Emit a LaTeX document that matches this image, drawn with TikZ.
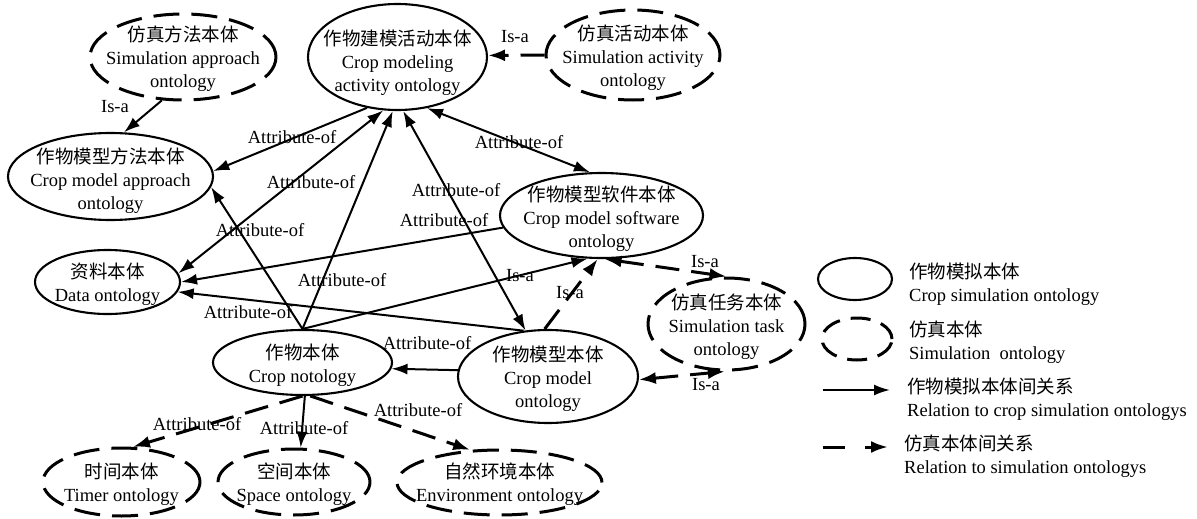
\documentclass[tikz,border=0pt]{standalone}
\usepackage{fontspec}
\setmainfont{Liberation Serif}
\newfontfamily\cjk{Noto Sans CJK SC}
\usetikzlibrary{shapes.geometric,arrows.meta}
\begin{document}
\begin{tikzpicture}[x=1pt,y=-1pt,
  font=\fontsize{18.5}{23}\selectfont,
  solidell/.style={draw, ellipse, line width=2.1pt, inner sep=0pt},
  dashell/.style={draw, ellipse, line width=3pt, dash pattern=on 26pt off 12pt, inner sep=0pt},
  txt/.style={align=center, inner sep=0pt},
  legtxt/.style={align=left, inner sep=0pt, anchor=west},
  lbl/.style={inner sep=0pt},
  tip/.tip={Latex[length=16pt,width=11pt]},
  stip/.tip={Latex[length=17pt,width=12pt]},
  rel/.style={line width=2pt, -tip},
  relboth/.style={line width=2pt, tip-tip},
  srel/.style={line width=3pt, dash pattern=on 24pt off 12pt, -stip},
  srelboth/.style={line width=3pt, dash pattern=on 24pt off 12pt, stip-stip}
]
\useasboundingbox (0,0) rectangle (1197,519);

% ellipses
\node[dashell,  minimum width=186pt, minimum height=86pt]  (sap)   at (183,57) {};
\node[solidell, minimum width=179pt, minimum height=106pt] (act)   at (397.5,57) {};
\node[dashell,  minimum width=174pt, minimum height=90pt]  (sact)  at (633,55) {};
\node[solidell, minimum width=205pt, minimum height=87pt]  (cma)   at (110.5,176.5) {};
\node[solidell, minimum width=203pt, minimum height=85pt]  (cms)   at (601.5,215.5) {};
\node[solidell, minimum width=145pt, minimum height=64pt]  (data)  at (107.5,282) {};
\node[solidell, minimum width=179pt, minimum height=65pt]  (crop)  at (302.5,362.5) {};
\node[solidell, minimum width=180pt, minimum height=93pt]  (cm)    at (548,376.5) {};
\node[dashell,  minimum width=157pt, minimum height=92pt]  (task)  at (726.5,324) {};
\node[dashell,  minimum width=157pt, minimum height=68pt]  (timer) at (121.5,482) {};
\node[dashell,  minimum width=152pt, minimum height=66pt]  (space) at (294,482) {};
\node[dashell,  minimum width=205pt, minimum height=65pt]  (env)   at (499.5,482.5) {};
\node[solidell, minimum width=74pt, minimum height=42pt]   (leg1)  at (855,279) {};
\node[dashell, dash pattern=on 20pt off 11pt, minimum width=70pt, minimum height=42pt] (leg2) at (857,339) {};

% texts
\node[txt] (sap-t)   at (183,59)    {{\cjk 仿真方法本体}\\Simulation approach\\ontology};
\node[txt] (act-t)   at (397.5,63)  {{\cjk 作物建模活动本体}\\Crop modeling\\activity ontology};
\node[txt] (sact-t)  at (633,58)    {{\cjk 仿真活动本体}\\Simulation activity\\ontology};
\node[txt] (cma-t)   at (110.5,181) {{\cjk 作物模型方法本体}\\Crop model approach\\ontology};
\node[txt] (cms-t)   at (601.5,219) {{\cjk 作物模型软件本体}\\Crop model software\\ontology};
\node[txt] (data-t)  at (107.5,284) {{\cjk 资料本体}\\Data ontology};
\node[txt] (crop-t)  at (302.5,365) {{\cjk 作物本体}\\Crop notology};
\node[txt] (cm-t)    at (548,379)   {{\cjk 作物模型本体}\\Crop model\\ontology};
\node[txt] (task-t)  at (726.5,327) {{\cjk 仿真任务本体}\\Simulation task\\ontology};
\node[txt] (timer-t) at (121.5,484) {{\cjk 时间本体}\\Timer ontology};
\node[txt] (space-t) at (294,484)   {{\cjk 空间本体}\\Space ontology};
\node[txt] (env-t)   at (499.5,484) {{\cjk 自然环境本体}\\Environment ontology};

% connectors
\draw[rel] (sap.244) -- (cma.73.5);
\draw[srel] (sact.180) -- (act.1);
\draw[rel] (act.239) -- (cma.3.6);
\draw[relboth] (act.255) -- (data.7);
\draw[rel] (crop.north) -- (act.265);
\draw[relboth] (act.276) -- (cm.116);
\draw[relboth] (act.300) -- (cms.105);
\draw[rel] (crop.north) -- (cma.354);
\draw[rel] (crop.north) -- (cms.252.4);
\draw[rel] (cms.187) -- (data.0);
\draw[rel] (cm.118) -- (data.352.6);
\draw[rel] (cm.176) -- (crop.356.5);
\draw[srel] (cm.94) -- (cms.265.3);
\draw[srelboth] (cms.274.7) -- (task.north);
\draw[srelboth] (cm.358) -- (task.268);
\draw[srel] (crop.south) -- (timer.72);
\draw[rel] (crop.274) -- (space.79);
\draw[srel] (crop.283) -- (env.132);

% labels
\node[lbl] (l1)  at (292,137) {Attribute-of};
\node[lbl] (l2)  at (519,142) {Attribute-of};
\node[lbl] (l3)  at (311,182) {Attribute-of};
\node[lbl] (l4)  at (260,230) {Attribute-of};
\node[lbl] (l5)  at (342,280) {Attribute-of};
\node[lbl] (l6)  at (456,190) {Attribute-of};
\node[lbl] (l7)  at (444,220) {Attribute-of};
\node[lbl] (l8)  at (248,312) {Attribute-of};
\node[lbl] (l9)  at (427,343) {Attribute-of};
\node[lbl] (l10) at (197,424) {Attribute-of};
\node[lbl] (l11) at (304,428) {Attribute-of};
\node[lbl] (l12) at (418,410) {Attribute-of};
\node[lbl] (i1)  at (115,107) {Is-a};
\node[lbl] (i2)  at (515,37)  {Is-a};
\node[lbl] (i3)  at (520,276) {Is-a};
\node[lbl] (i4)  at (570,293) {Is-a};
\node[lbl] (i5)  at (705,262) {Is-a};
\node[lbl] (i6)  at (706,385) {Is-a};

% legend
\coordinate (la1) at (823,390);
\coordinate (la2) at (890,390);
\draw[rel] (la1) -- (la2);
\coordinate (lb1) at (823,447);
\coordinate (lb2) at (888,447);
\draw[line width=3pt, dash pattern=on 22pt off 20pt, -stip] (lb1) -- (lb2);
\node[legtxt] (lt1) at (909,284) {{\cjk 作物模拟本体}\\Crop simulation ontology};
\node[legtxt] (lt2) at (909,342) {{\cjk 仿真本体}\\Simulation\ \ ontology};
\node[legtxt] (lt3) at (907,399) {{\cjk 作物模拟本体间关系}\\Relation to crop simulation ontologys};
\node[legtxt] (lt4) at (904,456) {{\cjk 仿真本体间关系}\\Relation to simulation ontologys};
\end{tikzpicture}
\end{document}
